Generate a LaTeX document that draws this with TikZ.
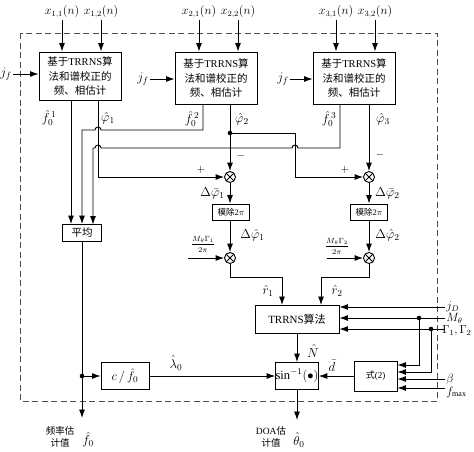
\RequirePackage{fix-cm}
\documentclass[tikz,border=0pt]{standalone}
\usepackage{fontspec}
\usepackage{amsmath, amssymb}
\setmainfont{Liberation Serif}
\newfontfamily\cjk{Noto Sans CJK SC}
\usetikzlibrary{arrows.meta}
\newcommand{\zh}[1]{{\cjk #1}}

\begin{document}
\begin{tikzpicture}[x=1pt, y=-1pt, line width=0.9pt, >={Latex[length=8.5pt,width=6pt]},
  blk/.style={draw, minimum width=82pt, minimum height=50pt, inner sep=0pt, align=center, font=\fontsize{10.5}{14.5}\selectfont},
  sbox/.style={draw, inner sep=0pt, align=center},
  mult/.style={circle, draw, minimum size=11pt, inner sep=0pt, path picture={\draw (path picture bounding box.north west) -- (path picture bounding box.south east) (path picture bounding box.north east) -- (path picture bounding box.south west);}},
  lbl/.style={inner sep=1pt, font=\fontsize{13}{14}\selectfont}]
\useasboundingbox (0,0) rectangle (474,451);
\draw[dash pattern=on 6pt off 3.5pt, line width=0.9pt, black!70] (20,33) rectangle (437,401);
\node[blk, minimum height=48pt] (b1) at (80,76) {\zh{基于}TRRNS\zh{算}\\\zh{法和谱校正的}\\\zh{频、相估计}};
\node[blk, minimum height=52pt] (b2) at (216,78) {\zh{基于}TRRNS\zh{算}\\\zh{法和谱校正的}\\\zh{频、相估计}};
\node[blk, minimum height=52pt] (b3) at (354,78) {\zh{基于}TRRNS\zh{算}\\\zh{法和谱校正的}\\\zh{频、相估计}};
\node[lbl, font=\fontsize{12}{13}\selectfont] (x11) at (62,12) {$x_{1,1}(n)$};
\node[lbl, font=\fontsize{12}{13}\selectfont] (x12) at (101,12) {$x_{1,2}(n)$};
\node[lbl, font=\fontsize{12}{13}\selectfont] (x21) at (199,12) {$x_{2,1}(n)$};
\node[lbl, font=\fontsize{12}{13}\selectfont] (x22) at (238,12) {$x_{2,2}(n)$};
\node[lbl, font=\fontsize{12}{13}\selectfont] (x31) at (336,12) {$x_{3,1}(n)$};
\node[lbl, font=\fontsize{12}{13}\selectfont] (x32) at (375,12) {$x_{3,2}(n)$};
\foreach \i/\b in {x11/b1, x12/b1, x21/b2, x22/b2, x31/b3, x32/b3}
  \draw[->] (\i) -- (\i |- \b.north);
\node[lbl] (jf1) at (6,74) {$j_f$};
\node[lbl] (jf2) at (143,79) {$j_f$};
\node[lbl] (jf3) at (283,79) {$j_f$};
\draw[->] (jf1) -- (jf1 -| b1.west);
\draw[->] (jf2) -- (jf2 -| b2.west);
\draw[->] (jf3) -- (jf3 -| b3.west);
\coordinate (f1) at (71,100);
\coordinate (p1) at (98,100);
\coordinate (f2) at (203,104);
\coordinate (p2) at (230,104);
\coordinate (f3) at (340,104);
\coordinate (p3) at (369,104);
\node[lbl] at (49,118) {$\hat{f}_0^{\,1}$};
\node[lbl] at (108,118) {$\hat{\varphi}_1$};
\node[lbl] at (192,119) {$\hat{f}_0^{\,2}$};
\node[lbl] at (242,119) {$\hat{\varphi}_2$};
\node[lbl] at (329,119) {$\hat{f}_0^{\,3}$};
\node[lbl] at (383,119) {$\hat{\varphi}_3$};
\node[sbox, minimum width=39pt, minimum height=17pt, font=\fontsize{10.5}{12}\selectfont] (avg) at (82,233) {\zh{平均}};
\node[mult] (o1) at (230,177) {};
\node[mult] (o2) at (369,177) {};
\node[sbox, minimum width=37pt, minimum height=16pt, font=\fontsize{8.5}{10}\selectfont] (m1) at (231,212) {\zh{模除}2$\pi$};
\node[sbox, minimum width=37pt, minimum height=16pt, font=\fontsize{8.5}{10}\selectfont] (m2) at (369,212) {\zh{模除}2$\pi$};
\node[mult] (q1) at (230,258) {};
\node[mult] (q2) at (369,258) {};
\draw[->] (f1) -- (avg.north -| f1);
\draw[->] (f2) -- (203,130) -- (101,130) arc[start angle=0, end angle=180, radius=3pt] -- (82,130) -- (avg.north);
\draw[->] (f3) -- (340,148) -- (298,148) arc[start angle=0, end angle=180, radius=3pt] -- (101,148) arc[start angle=0, end angle=180, radius=3pt] -- (93,148) -- (93,224.5);
\draw[->] (p1) |- (o1);
\draw[->] (p2) -- (o1);
\coordinate (dt) at (230,133);
\fill (dt) circle (2.3pt);
\draw[->] (dt) -- (295,133) |- (o2);
\draw[->] (p3) -- (o2);
\node[lbl, font=\fontsize{11}{12}\selectfont] at (201,170) {$+$};
\node[lbl, font=\fontsize{11}{12}\selectfont] at (345,170) {$+$};
\node[lbl, font=\fontsize{11}{12}\selectfont] at (241,156) {$-$};
\node[lbl, font=\fontsize{11}{12}\selectfont] at (380,155) {$-$};
\draw[->] (o1) -- (m1.north -| o1);
\draw[->] (o2) -- (m2);
\draw[->] (m1.south -| q1) -- (q1);
\draw[->] (m2) -- (q2);
\node[lbl, anchor=east] at (226,193) {$\Delta\bar{\varphi}_1$};
\node[lbl, anchor=west] at (374,193) {$\Delta\bar{\varphi}_2$};
\node[lbl, anchor=west] at (239,235) {$\Delta\hat{\varphi}_1$};
\node[lbl, anchor=west] at (374,235) {$\Delta\hat{\varphi}_2$};
\node[inner sep=0pt, font=\fontsize{7.5}{8}\selectfont] at (203,244) {$\dfrac{M_\theta\Gamma_1}{2\pi}$};
\node[inner sep=0pt, font=\fontsize{7.5}{8}\selectfont] at (337,246) {$\dfrac{M_\theta\Gamma_2}{2\pi}$};
\coordinate (g1) at (188,258);
\coordinate (g2) at (327,258);
\draw[->] (g1) -- (q1);
\draw[->] (g2) -- (q2);
\node[sbox, minimum width=84pt, minimum height=28pt, font=\fontsize{11}{12}\selectfont] (trr) at (297,319) {TRRNS\zh{算法}};
\draw[->] (q1) -- (230,277) -- (282,277) -- (282,305);
\draw[->] (q2) -- (369,277) -- (321,277) -- (321,305);
\node[lbl] at (268,291) {$\hat{r}_1$};
\node[lbl] at (337,291) {$\hat{r}_2$};
\coordinate (jD) at (445,307);
\coordinate (Mt) at (445,318);
\coordinate (Gm) at (445,329);
\coordinate (bt) at (445,379);
\coordinate (fm) at (445,388);
\node[lbl, anchor=west, font=\fontsize{12}{13}\selectfont] at (jD) {$j_D$};
\node[lbl, anchor=west, font=\fontsize{12}{13}\selectfont] at (Mt) {$M_\theta$};
\node[lbl, anchor=west, font=\fontsize{11.5}{13}\selectfont, xshift=-4pt] at ([yshift=-2pt]Gm) {$\Gamma_1,\Gamma_2$};
\node[lbl, anchor=west, font=\fontsize{12}{13}\selectfont] at (bt) {$\beta$};
\node[lbl, anchor=west, font=\fontsize{12}{13}\selectfont] at ([yshift=-4pt]fm) {$f_{\max}$};
\draw[->] (jD) -- (jD -| trr.east);
\draw[->] (Mt) -- (Mt -| trr.east);
\draw[->] (Gm) -- (Gm -| trr.east);
\node[sbox, minimum width=43pt, minimum height=30pt, font=\fontsize{9}{10}\selectfont] (eq) at (375.5,376) {\zh{式}(2)};
\coordinate (d1) at (419,318);
\coordinate (d2) at (431,329);
\fill (d1) circle (2.3pt);
\fill (d2) circle (2.3pt);
\draw[->] (d1) |- (eq.east |- 0,365);
\draw[->] (d2) |- (eq.east |- 0,372);
\draw[->] (bt) -- (bt -| eq.east);
\draw[->] (fm) -- (fm -| eq.east);
\node[sbox, minimum width=41pt, minimum height=27pt, font=\fontsize{12.5}{13}\selectfont] (asin) at (297,376) {$\sin^{-1}(\bullet)$};
\node[sbox, minimum width=48pt, minimum height=27pt, font=\fontsize{12.5}{13}\selectfont] (cf) at (125,376) {$c\,/\,\hat{f}_0$};
\draw[->] (eq) -- (asin);
\draw[->] (trr.south -| asin) -- (asin);
\draw[->] (cf) -- (asin);
\node[lbl] at (332,366) {$\bar{d}$};
\node[lbl] at (313,351) {$\hat{N}$};
\node[lbl] at (176,363) {$\hat{\lambda}_0$};
\coordinate (fo) at (82,418);
\coordinate (dc) at (82,376);
\draw[->] (avg) -- (fo);
\fill (dc) circle (2.3pt);
\draw[->] (dc) -- (cf);
\coordinate (ao) at (297,420);
\draw[->] (asin) -- (ao);
\node[align=center, inner sep=0pt, font=\fontsize{9.5}{12.5}\selectfont] at (60,437) {\zh{频率估}\\\zh{计值}};
\node[lbl] at (88,440) {$\hat{f}_0$};
\node[align=center, inner sep=0pt, font=\fontsize{9.5}{12.5}\selectfont] at (271,437) {DOA\zh{估}\\\zh{计值}};
\node[lbl] at (299,440) {$\hat{\theta}_0$};
\end{tikzpicture}
\end{document}
